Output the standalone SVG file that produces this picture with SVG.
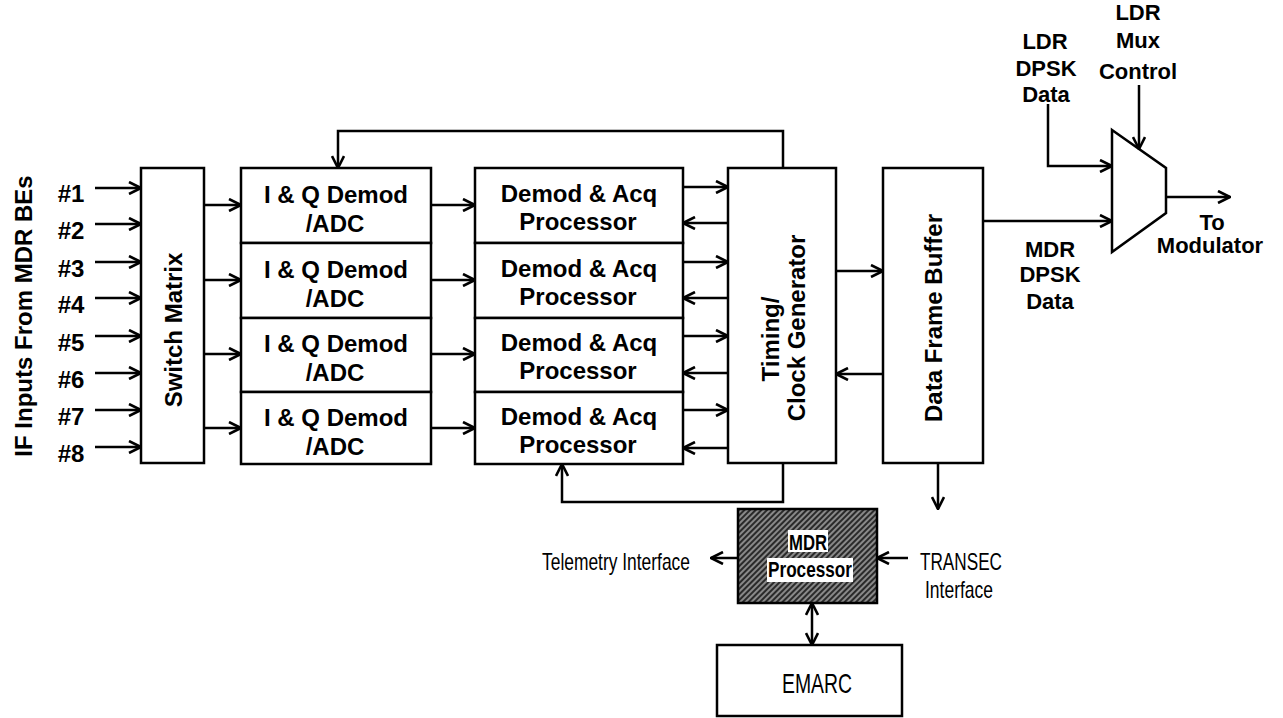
<svg xmlns="http://www.w3.org/2000/svg" width="1283" height="718" viewBox="0 0 1283 718">
<style>
.box{fill:#fff;stroke:#000;stroke-width:2.5}
.ln{fill:none;stroke:#000;stroke-width:2.5}
.arr{marker-end:url(#ah)}
.b{font-family:"Liberation Sans",Arial,sans-serif;font-weight:bold;font-size:24px;fill:#000;text-anchor:middle}
.s{font-size:22px}
.r{font-family:"Liberation Sans",Arial,sans-serif;font-size:24px;fill:#000}
.big{font-size:28px}
</style>
<defs>
<marker id="ah" viewBox="0 0 14 14" refX="13" refY="7" markerWidth="14" markerHeight="14" markerUnits="userSpaceOnUse" orient="auto">
<path d="M1,1 L13,7 L1,13" fill="none" stroke="#000" stroke-width="2.6"/>
</marker>
<marker id="as" viewBox="0 0 14 14" refX="13" refY="7" markerWidth="14" markerHeight="14" markerUnits="userSpaceOnUse" orient="auto-start-reverse">
<path d="M1,1 L13,7 L1,13" fill="none" stroke="#000" stroke-width="2.6"/>
</marker>
<pattern id="hatch" patternUnits="userSpaceOnUse" width="4" height="4" patternTransform="rotate(45)">
<rect width="4" height="4" fill="#2a2a2a"/>
<line x1="1" y1="0" x2="1" y2="4" stroke="#d8d8d8" stroke-width="1.1"/>
</pattern>
</defs>

<g id="label-if-inputs">
<text class="b" transform="translate(32,316) rotate(-90)">IF Inputs From MDR BEs</text>
<text class="b" x="71" y="202">#1</text>
<text class="b" x="71" y="239">#2</text>
<text class="b" x="71" y="277">#3</text>
<text class="b" x="71" y="313">#4</text>
<text class="b" x="71" y="351">#5</text>
<text class="b" x="71" y="388">#6</text>
<text class="b" x="71" y="425">#7</text>
<text class="b" x="71" y="462">#8</text>
</g>

<g id="switch-matrix">
<rect class="box" x="141" y="168" width="63" height="295"/>
<text class="b" transform="translate(182,330) rotate(-90)">Switch Matrix</text>
</g>

<g id="iq-demod-1"><rect class="box" x="241" y="168" width="190" height="75"/>
<text class="b" x="336" y="203">I &amp; Q Demod</text><text class="b" x="335" y="232">/ADC</text></g>
<g id="iq-demod-2"><rect class="box" x="241" y="243" width="190" height="75"/>
<text class="b" x="336" y="278">I &amp; Q Demod</text><text class="b" x="335" y="307">/ADC</text></g>
<g id="iq-demod-3"><rect class="box" x="241" y="318" width="190" height="74"/>
<text class="b" x="336" y="352">I &amp; Q Demod</text><text class="b" x="335" y="381">/ADC</text></g>
<g id="iq-demod-4"><rect class="box" x="241" y="392" width="190" height="72"/>
<text class="b" x="336" y="426">I &amp; Q Demod</text><text class="b" x="335" y="455">/ADC</text></g>

<g id="demod-acq-1"><rect class="box" x="475" y="168" width="208" height="75"/>
<text class="b" x="579" y="202">Demod &amp; Acq</text><text class="b" x="578" y="230">Processor</text></g>
<g id="demod-acq-2"><rect class="box" x="475" y="243" width="208" height="75"/>
<text class="b" x="579" y="277">Demod &amp; Acq</text><text class="b" x="578" y="305">Processor</text></g>
<g id="demod-acq-3"><rect class="box" x="475" y="318" width="208" height="74"/>
<text class="b" x="579" y="351">Demod &amp; Acq</text><text class="b" x="578" y="379">Processor</text></g>
<g id="demod-acq-4"><rect class="box" x="475" y="392" width="208" height="72"/>
<text class="b" x="579" y="425">Demod &amp; Acq</text><text class="b" x="578" y="453">Processor</text></g>

<g id="timing-clock">
<rect class="box" x="728" y="168" width="108" height="295"/>
<text class="b" transform="translate(779,339) rotate(-90)">Timing/</text>
<text class="b" transform="translate(805,328) rotate(-90)">Clock Generator</text>
</g>

<g id="data-frame-buffer">
<rect class="box" x="883" y="168" width="100" height="295"/>
<text class="b" transform="translate(942,318) rotate(-90)">Data Frame Buffer</text>
</g>

<g id="mux">
<path class="box" d="M1112,130 L1166,168 L1166,213 L1112,252 Z"/>
</g>

<g id="label-ldr-dpsk">
<text class="b s" x="1045" y="49">LDR</text>
<text class="b s" x="1046" y="76">DPSK</text>
<text class="b s" x="1046" y="102">Data</text>
</g>
<g id="label-ldr-mux">
<text class="b s" x="1138" y="20">LDR</text>
<text class="b s" x="1138" y="48">Mux</text>
<text class="b s" x="1138" y="79">Control</text>
</g>
<g id="label-to-modulator">
<text class="b s" x="1212" y="230">To</text>
<text class="b s" x="1210" y="253">Modulator</text>
</g>
<g id="label-mdr-dpsk">
<text class="b s" x="1050" y="257">MDR</text>
<text class="b s" x="1050" y="282">DPSK</text>
<text class="b s" x="1050" y="309">Data</text>
</g>

<g id="mdr-processor">
<rect x="738" y="509" width="139" height="94" fill="url(#hatch)" stroke="#000" stroke-width="2.5"/>
<rect x="788" y="530" width="40" height="22" fill="#fff"/>
<rect x="767" y="558" width="86" height="24" fill="#fff"/>
<text class="b s" x="808" y="550" textLength="38" lengthAdjust="spacingAndGlyphs">MDR</text>
<text class="b s" x="810" y="577" textLength="84" lengthAdjust="spacingAndGlyphs">Processor</text>
</g>

<g id="label-telemetry">
<text class="r" x="542" y="570" textLength="148" lengthAdjust="spacingAndGlyphs">Telemetry Interface</text>
</g>
<g id="label-transec">
<text class="r" x="920" y="570" textLength="82" lengthAdjust="spacingAndGlyphs">TRANSEC</text>
<text class="r" x="925" y="598" textLength="68" lengthAdjust="spacingAndGlyphs">Interface</text>
</g>

<g id="emarc">
<rect class="box" x="717" y="645" width="185" height="71"/>
<text class="r big" x="782" y="693" textLength="70" lengthAdjust="spacingAndGlyphs">EMARC</text>
</g>

<g id="connectors">
<line class="ln arr" x1="95" y1="188" x2="141" y2="188"/>
<line class="ln arr" x1="95" y1="224" x2="141" y2="224"/>
<line class="ln arr" x1="95" y1="262" x2="141" y2="262"/>
<line class="ln arr" x1="95" y1="298" x2="141" y2="298"/>
<line class="ln arr" x1="95" y1="336" x2="141" y2="336"/>
<line class="ln arr" x1="95" y1="373" x2="141" y2="373"/>
<line class="ln arr" x1="95" y1="410" x2="141" y2="410"/>
<line class="ln arr" x1="95" y1="447" x2="141" y2="447"/>
<line class="ln arr" x1="204" y1="205" x2="241" y2="205"/>
<line class="ln arr" x1="204" y1="280" x2="241" y2="280"/>
<line class="ln arr" x1="204" y1="354" x2="241" y2="354"/>
<line class="ln arr" x1="204" y1="428" x2="241" y2="428"/>
<line class="ln arr" x1="431" y1="205" x2="475" y2="205"/>
<line class="ln arr" x1="431" y1="280" x2="475" y2="280"/>
<line class="ln arr" x1="431" y1="354" x2="475" y2="354"/>
<line class="ln arr" x1="431" y1="428" x2="475" y2="428"/>
<line class="ln arr" x1="683" y1="187" x2="728" y2="187"/>
<line class="ln arr" x1="683" y1="262" x2="728" y2="262"/>
<line class="ln arr" x1="683" y1="336" x2="728" y2="336"/>
<line class="ln arr" x1="683" y1="410" x2="728" y2="410"/>
<line class="ln arr" x1="728" y1="223" x2="683" y2="223"/>
<line class="ln arr" x1="728" y1="298" x2="683" y2="298"/>
<line class="ln arr" x1="728" y1="373" x2="683" y2="373"/>
<line class="ln arr" x1="728" y1="448" x2="683" y2="448"/>
<polyline class="ln arr" points="783,168 783,131 338,131 338,168"/>
<polyline class="ln arr" points="783,463 783,502 562,502 562,464"/>
<line class="ln arr" x1="836" y1="271" x2="883" y2="271"/>
<line class="ln arr" x1="883" y1="374" x2="836" y2="374"/>
<line class="ln arr" x1="983" y1="221" x2="1112" y2="221"/>
<polyline class="ln arr" points="1048,104 1048,166 1112,166"/>
<line class="ln arr" x1="1139" y1="85" x2="1139" y2="149"/>
<line class="ln arr" x1="1166" y1="197" x2="1230" y2="197"/>
<line class="ln arr" x1="938" y1="463" x2="938" y2="509"/>
<line class="ln arr" x1="738" y1="558" x2="711" y2="558"/>
<line class="ln arr" x1="908" y1="558" x2="877" y2="558"/>
<line class="ln" x1="812" y1="603" x2="812" y2="645" marker-start="url(#as)" marker-end="url(#as)"/>
</g>
</svg>
